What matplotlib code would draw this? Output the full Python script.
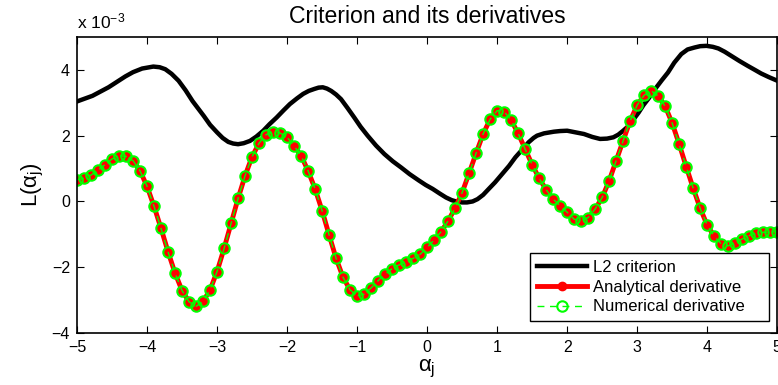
import numpy as np
import matplotlib
matplotlib.use("Agg")
import matplotlib.pyplot as plt

plt.rcParams['font.family'] = ['Liberation Sans', 'DejaVu Sans']
plt.rcParams['mathtext.fontset'] = 'custom'
plt.rcParams['mathtext.rm'] = 'Liberation Sans'
plt.rcParams['mathtext.it'] = 'Liberation Sans'

# values in units of 1e-3
# L2 criterion (alpha, value)
crit_alpha = [-5.0, -4.78, -4.55, -4.31, -4.2, -4.07, -3.91, -3.82, -3.74, -3.65,
              -3.55, -3.45, -3.35, -3.19, -3.10, -3.00, -2.92, -2.84, -2.77, -2.70,
              -2.62, -2.53, -2.44, -2.34, -2.25, -2.15, -2.05, -1.96, -1.86, -1.77,
              -1.69, -1.61, -1.55, -1.49, -1.43, -1.37, -1.30, -1.23, -1.14, -1.04,
              -0.95, -0.85, -0.73, -0.61, -0.49, -0.37, -0.25, -0.12, -0.02, 0.08,
              0.18, 0.27, 0.35, 0.43, 0.50, 0.57, 0.65, 0.72, 0.80, 0.88,
              0.97, 1.07, 1.17, 1.26, 1.36, 1.45, 1.52, 1.57, 1.67, 1.81,
              1.90, 2.00, 2.12, 2.24, 2.36, 2.47, 2.57, 2.66, 2.73, 2.80,
              2.88, 2.95, 3.02, 3.09, 3.17, 3.25, 3.35, 3.44, 3.53, 3.63,
              3.72, 3.82, 3.90, 3.99, 4.08, 4.16, 4.25, 4.34, 4.46, 4.58,
              4.68, 4.77, 4.88, 5.0]
crit_val = [3.04, 3.21, 3.47, 3.80, 3.93, 4.04, 4.10, 4.08, 4.02, 3.88,
            3.67, 3.38, 3.05, 2.60, 2.33, 2.10, 1.93, 1.81, 1.76, 1.74,
            1.77, 1.84, 1.97, 2.15, 2.35, 2.55, 2.77, 2.96, 3.13, 3.27,
            3.36, 3.42, 3.46, 3.47, 3.43, 3.36, 3.25, 3.11, 2.85, 2.55,
            2.27, 2.00, 1.70, 1.44, 1.22, 1.03, 0.83, 0.64, 0.50, 0.38,
            0.24, 0.12, 0.04, -0.01, -0.03, -0.03, 0.00, 0.07, 0.20, 0.38,
            0.58, 0.83, 1.08, 1.34, 1.58, 1.80, 1.93, 2.00, 2.07, 2.12,
            2.14, 2.15, 2.10, 2.05, 1.96, 1.90, 1.91, 1.95, 2.03, 2.15,
            2.30, 2.50, 2.70, 2.93, 3.15, 3.40, 3.68, 3.92, 4.22, 4.48,
            4.62, 4.68, 4.72, 4.73, 4.70, 4.65, 4.55, 4.43, 4.27, 4.12,
            4.00, 3.89, 3.78, 3.67]

# derivative samples at alpha = -5, -4.9, ..., 5
deriv_alpha = np.round(np.linspace(-5, 5, 101), 1)
analytical = [0.66, 0.70, 0.80, 0.95, 1.12, 1.29, 1.39, 1.37, 1.24, 0.93,
              0.46, -0.15, -0.82, -1.53, -2.18, -2.71, -3.05, -3.19, -3.04, -2.69,
              -2.13, -1.43, -0.67, 0.09, 0.78, 1.36, 1.77, 2.03, 2.12, 2.08,
              1.95, 1.69, 1.39, 0.93, 0.38, -0.28, -1.02, -1.73, -2.31, -2.69,
              -2.87, -2.82, -2.63, -2.41, -2.21, -2.04, -1.93, -1.83, -1.73, -1.61,
              -1.40, -1.17, -0.92, -0.59, -0.20, 0.27, 0.86, 1.47, 2.05, 2.50,
              2.76, 2.73, 2.47, 2.07, 1.59, 1.12, 0.70, 0.36, 0.07, -0.13,
              -0.33, -0.54, -0.59, -0.49, -0.23, 0.12, 0.63, 1.24, 1.85, 2.45,
              2.93, 3.23, 3.36, 3.21, 2.89, 2.38, 1.74, 1.06, 0.40, -0.21,
              -0.72, -1.06, -1.29, -1.35, -1.27, -1.14, -1.04, -0.96, -0.94, -0.93,
              -0.92]
numerical = list(analytical)  # identical to the eye

fig = plt.figure(figsize=(7.78, 3.85), dpi=100)
ax = fig.add_axes([0.099, 0.135, 0.9, 0.769])

ax.plot(crit_alpha, crit_val, color='black', lw=3.2, label='L2 criterion')
ax.plot(deriv_alpha, analytical, color='red', lw=3.5, marker='o', ms=6,
        mec='red', mfc='red', label='Analytical derivative')
ax.plot(deriv_alpha, numerical, color='lime', lw=1, ls=(0, (5, 4)), marker='o', ms=7.5,
        mfc='none', mec='lime', mew=1.5, label='Numerical derivative')

ax.set_xlim(-5, 5)
ax.set_ylim(-4, 5)
ax.set_xticks(range(-5, 6))
ax.set_yticks([-4, -2, 0, 2, 4])
ax.tick_params(direction='in', length=5, width=0.8, labelsize=11.5, pad=5,
               top=True, right=True)
for s in ax.spines.values():
    s.set_linewidth(1.2)

ax.set_title('Criterion and its derivatives', fontsize=16.6, pad=10)
ax.set_xlabel(r'$\alpha_j$', fontsize=16, labelpad=2)
ax.set_ylabel(r'L($\alpha_j$)', fontsize=16, labelpad=4)
fig.text(0.099, 0.925, r'x 10$^{-3}$', fontsize=12.5, ha='left', va='baseline')

leg = ax.legend(loc='lower left', bbox_to_anchor=(0.647, 0.0405, 0.3414, 0.23),
                mode='expand', borderaxespad=0,
                fontsize=12, numpoints=1, handlelength=3.0, handletextpad=0.35,
                labelspacing=0.28, borderpad=0.4, fancybox=False, framealpha=1)
leg.get_frame().set_edgecolor('black')
leg.get_frame().set_linewidth(1.0)

fig.savefig('out.png', dpi=100)
